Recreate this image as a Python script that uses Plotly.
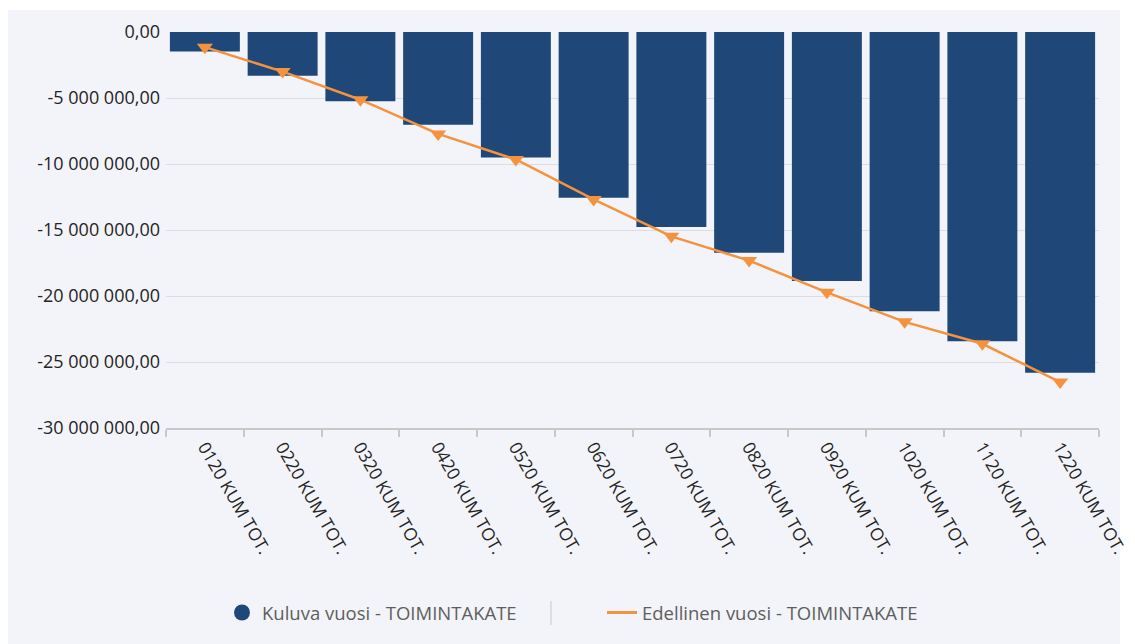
import plotly.graph_objects as go

categories = ["0120 KUM TOT.", "0220 KUM TOT.", "0320 KUM TOT.", "0420 KUM TOT.",
              "0520 KUM TOT.", "0620 KUM TOT.", "0720 KUM TOT.", "0820 KUM TOT.",
              "0920 KUM TOT.", "1020 KUM TOT.", "1120 KUM TOT.", "1220 KUM TOT."]
kuluva = [-1480000, -3320000, -5250000, -7030000, -9500000, -12550000,
          -14780000, -16730000, -18870000, -21150000, -23420000, -25820000]
edellinen = [-1150000, -3000000, -5130000, -7720000, -9660000, -12680000,
             -15480000, -17320000, -19720000, -21960000, -23620000, -26520000]
ytick_vals = [0, -5000000, -10000000, -15000000, -20000000, -25000000, -30000000]
ytick_text = ["0,00", "-5 000 000,00", "-10 000 000,00", "-15 000 000,00",
              "-20 000 000,00", "-25 000 000,00", "-30 000 000,00"]
name_kuluva = "Kuluva vuosi - TOIMINTAKATE"
name_edellinen = "Edellinen vuosi - TOIMINTAKATE"

BLUE = "#1f4878"
ORANGE = "#f5923e"
PANEL = "#f3f4f9"
FONT = "Open Sans, Noto Sans, sans-serif"

fig = go.Figure()
fig.add_trace(go.Bar(x=categories, y=kuluva, marker=dict(color=BLUE, line=dict(width=0)),
                     showlegend=False, name=name_kuluva))
fig.add_trace(go.Scatter(x=categories, y=edellinen, mode="lines+markers", showlegend=False,
                         line=dict(color=ORANGE, width=2.5),
                         marker=dict(symbol="triangle-down", size=14, color=ORANGE),
                         cliponaxis=False, name=name_edellinen))
# legend-only entries
fig.add_trace(go.Scatter(x=[None], y=[None], mode="markers", name=name_kuluva,
                         marker=dict(symbol="circle", size=17, color=BLUE)))
fig.add_trace(go.Scatter(x=[None], y=[None], mode="lines", name=name_edellinen,
                         line=dict(color=ORANGE, width=3)))

OFF = 0  # body margin removed via post_script
W, H = 1135, 644
L, T = 166, 32
R = W - 1099
B = H - 428
pw, ph = W - L - R, H - T - B

def px_x(px):
    return (px - OFF - L) / pw

def px_y(py):
    return (H - B - (py - OFF)) / ph

fig.add_shape(type="rect", xref="paper", yref="paper",
              x0=px_x(8), x1=px_x(1120), y0=px_y(660), y1=px_y(10),
              fillcolor=PANEL, line=dict(width=0), layer="below")
fig.add_shape(type="line", xref="paper", yref="paper",
              x0=px_x(551), x1=px_x(551), y0=px_y(601), y1=px_y(625),
              line=dict(color="#c8c8c8", width=1))

fig.update_layout(
    width=W, height=H,
    margin=dict(l=L, r=R, t=T, b=B, autoexpand=False),
    paper_bgcolor="white", plot_bgcolor=PANEL,
    bargap=0.1,
    font=dict(family=FONT, color="#252423"),
    legend=dict(orientation="h", x=px_x(222), xanchor="left", y=px_y(613), yanchor="middle",
                font=dict(size=18.5, color="#605e5c"), itemwidth=30,
                entrywidth=335, entrywidthmode="pixels",
                bgcolor="rgba(0,0,0,0)"),
    xaxis=dict(type="category", range=[-0.5, 11.5], tickangle=60, tickson="boundaries",
               ticks="outside", ticklen=7, tickwidth=2, tickcolor="#c8c8c8", showline=True,
               linecolor="#c8c8c8", linewidth=2, showgrid=False,
               tickfont=dict(size=17.5, color="#252423")),
    yaxis=dict(range=[-30000000, 0], tickvals=ytick_vals, ticktext=ytick_text,
               showgrid=True, gridcolor="#dcdde2", gridwidth=1, zeroline=False,
               ticks="", ticklabelstandoff=5, tickfont=dict(size=18, color="#252423")),
)

fig.write_html("out.html", post_script="document.body.style.margin='0';",
               config={"displayModeBar": False})
